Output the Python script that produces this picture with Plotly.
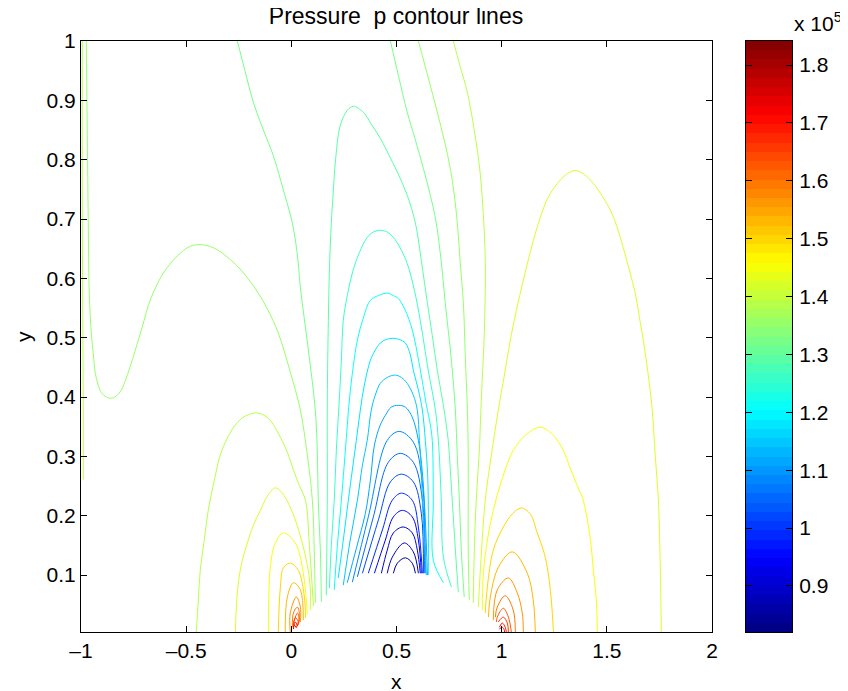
import plotly.graph_objects as go

# Contour levels in units of 1e5
L = {i: 0.811 + 0.034 * i for i in range(1, 28)}

# (level index, x values, y values)
CONTOURS = [
 (1,[.485,.504,.542,.575,.590],[.103,.120,.129,.120,.103]),
 (2,[.456,.480,.537,.580,.604],[.103,.130,.154,.139,.103]),
 (3,[.428,.456,.485,.532,.575,.599,.613],[.103,.142,.171,.181,.171,.142,.103]),
 (4,[.395,.447,.485,.528,.575,.604,.618],[.103,.159,.198,.209,.198,.159,.103]),
 (5,[.366,.433,.480,.523,.575,.604,.623],[.103,.176,.226,.238,.226,.181,.103]),
 (6,[.338,.414,.471,.523,.580,.618,.628],[.103,.193,.257,.270,.257,.204,.103]),
 (7,[.314,.390,.461,.518,.580,.623,.632],[.097,.198,.290,.305,.290,.226,.103]),
 (8,[.290,.366,.456,.513,.580,.623,.637],[.088,.198,.327,.342,.324,.255,.103]),
 (9,[.266,.309,.352,.376,.395,.423,.447,.475,.509,.542,.575,.604,.623,.637,.647],
    [.087,.145,.204,.260,.319,.353,.369,.383,.386,.383,.366,.327,.272,.193,.100]),
 (10,[.247,.280,.314,.338,.361,.380,.399,.423,.456,.494,.523,.551,.580,.599,.609,.618,.623,.632,.642],
     [.083,.159,.226,.285,.327,.378,.403,.423,.433,.437,.433,.423,.403,.378,.327,.277,.226,.159,.100]),
 (11,[.223,.247,.271,.290,.309,.328,.347,.376,.399,.423,.451,.485,.513,.542,.566,.580,.604,.623,.637,.647,.651,.651],
     [.095,.159,.226,.277,.327,.378,.420,.462,.479,.491,.497,.499,.497,.491,.471,.445,.412,.378,.327,.277,.226,.100]),
 (12,[.204,.219,.238,.257,.276,.295,.314,.342,.376,.414,.456,.485,.509,.542,.575,.609,.642,.661,.670,.675,.675,.723],
     [.075,.150,.226,.310,.395,.453,.496,.533,.563,.571,.575,.571,.566,.546,.513,.454,.387,.353,.327,.226,.125,.087]),
 (13,[.181,.190,.204,.214,.228,.238,.247,.266,.290,.323,.361,.390,.423,.456,.485,.518,.551,.585,.613,.651,.685,.699,.713,.723,.761],
     [.078,.150,.226,.310,.395,.462,.529,.571,.609,.643,.669,.678,.681,.678,.669,.651,.625,.580,.529,.445,.378,.327,.226,.130,.080]),
 (14,[.166,.171,.171,.176,.181,.190,.200,.209,.233,.266,.295,.342,.380,.423,.461,.504,.551,.590,.618,.647,.670,.694,.723,.746,.756,.765,.780,.794],
     [.066,.226,.395,.529,.614,.693,.749,.795,.858,.883,.890,.880,.860,.836,.810,.779,.740,.693,.630,.558,.504,.445,.386,.327,.276,.226,.142,.071]),
 (15,[-.257,-.219,-.181,-.133,-.086,-.038,.005,.029,.043,.081,.114,.124,.128,.138,.143],
     [1.0,.948,.897,.850,.807,.749,.693,.639,.585,.479,.378,.302,.226,.142,.055]),
 (15,[.471,.509,.551,.590,.628,.661,.689,.713,.732,.761,.780,.789,.799,.808,.822],
     [1.0,.942,.880,.833,.785,.740,.693,.627,.558,.462,.378,.302,.226,.142,.063]),
 (16,[-.975,-.970,-.965,-.961,-.951,-.941,-.932,-.918,-.903,-.880,-.856,-.832,-.808,-.785,-.761,-.713,-.666,-.599,-.523,-.480,-.433,-.390,-.347,-.252,-.157,-.109,-.062,-.005,.043,.076,.100,.109,.114],
     [1.0,.841,.681,.580,.508,.471,.440,.420,.407,.400,.398,.402,.412,.432,.457,.513,.568,.614,.644,.654,.657,.654,.647,.619,.575,.545,.508,.442,.378,.302,.226,.142,.053]),
 (16,[.604,.651,.694,.727,.756,.775,.789,.803,.818,.827,.837,.841,.841,.841,.846],
     [1.0,.938,.880,.833,.785,.740,.693,.627,.558,.470,.378,.302,.226,.142,.058]),
 (17,[-.994,-.994,-.989,-.989],[1.0,.732,.361,.261]),
 (17,[-.452,-.442,-.433,-.414,-.395,-.366,-.338,-.304,-.266,-.219,-.162,-.109,-.052,-.019,.010,.038,.067,.086,.105],
     [.004,.058,.108,.159,.209,.260,.302,.331,.353,.368,.373,.364,.332,.307,.277,.251,.226,.150,.048]),
 (17,[.770,.803,.837,.870,.899,.913,.922,.918,.903,.894,.879,.870,.865],
     [1.0,.957,.913,.849,.774,.706,.630,.513,.395,.311,.226,.142,.053]),
 (18,[-.266,-.261,-.252,-.233,-.209,-.181,-.147,-.114,-.076,-.043,-.014,.024,.052,.076,.090,.090],
     [.004,.049,.087,.125,.154,.184,.209,.233,.247,.238,.221,.188,.154,.117,.080,.041]),
 (18,[.889,.903,.922,.951,.984,1.013,1.041,1.070,1.103,1.141,1.184,1.222,1.265,1.307,1.350,1.393,1.436,1.479,1.517,1.550,1.578,1.607,1.635,1.654,1.673,1.697,1.716,1.730,1.745,1.754,1.759],
     [.046,.134,.226,.302,.378,.437,.496,.546,.597,.651,.703,.737,.760,.775,.782,.775,.760,.738,.715,.685,.652,.614,.575,.536,.496,.437,.378,.302,.226,.117,.004]),
 (19,[-.109,-.100,-.076,-.038,.019,.057,.076],[.004,.113,.154,.171,.154,.103,.033]),
 (19,[.908,.913,.932,.960,1.003,1.055,1.117,1.184,1.241,1.293,1.326,1.359,1.388,1.422,1.436,1.450,1.455],
     [.041,.103,.159,.209,.263,.310,.337,.349,.337,.310,.280,.251,.226,.159,.108,.058,.004]),
 (20,[-.062,-.052,-.038,-.005,.033,.062,.067],[.004,.080,.112,.120,.108,.063,.028]),
 (20,[.922,.932,.960,1.008,1.051,1.093,1.136,1.169,1.198,1.217,1.236,1.246],
     [.036,.080,.142,.181,.203,.213,.203,.171,.142,.113,.058,.004]),
 (21,[-.029,-.019,.010,.043,.057],[.004,.063,.087,.075,.024]),
 (21,[.937,.946,.984,1.051,1.122,1.150,1.160],[.029,.063,.113,.139,.103,.058,.004]),
 (22,[-.005,-.005,.024,.043,.043],[.004,.036,.063,.046,.021]),
 (22,[.960,.979,1.032,1.074,1.098,1.103],[.024,.075,.095,.070,.036,.004]),
 (23,[.005,.010,.029,.038,.033],[.012,.036,.046,.036,.017]),
 (23,[.970,.979,1.017,1.055,1.065],[.029,.046,.065,.041,.004]),
 (24,[.010,.029,.038,.029],[.019,.036,.024,.014]),
 (24,[.975,.979,1.008,1.032,1.046],[.021,.029,.044,.029,.004]),
 (25,[.010,.019,.033,.024],[.016,.028,.021,.012]),
 (25,[.984,1.008,1.027,1.032],[.021,.029,.019,.004]),
 (26,[.010,.019,.029],[.012,.021,.014]),
 (26,[.989,1.003,1.017,1.022],[.012,.019,.012,.004]),
 (27,[.010,.014,.024],[.009,.016,.011]),
 (27,[.989,1.003,1.013,1.013],[.009,.012,.007,.004]),
]

CB_MIN, CB_MAX = 0.8205, 1.8415
X_TICKS = [-1, -0.5, 0, 0.5, 1, 1.5, 2]
X_LABELS = ["\u20131", "\u20130.5", "0", "0.5", "1", "1.5", "2"]
Y_TICKS = [0.1, 0.2, 0.3, 0.4, 0.5, 0.6, 0.7, 0.8, 0.9, 1]
Y_LABELS = ["0.1", "0.2", "0.3", "0.4", "0.5", "0.6", "0.7", "0.8", "0.9", "1"]
CB_TICKS = [0.9, 1.0, 1.1, 1.2, 1.3, 1.4, 1.5, 1.6, 1.7, 1.8]
CB_LABELS = ["0.9", "1", "1.1", "1.2", "1.3", "1.4", "1.5", "1.6", "1.7", "1.8"]


def jet(i, n=64):
    t = (i + 0.5) / n
    f = lambda a: max(0.0, min(1.0, 1.5 - abs(4 * t - a)))
    return f"rgb({round(255*f(3)):d},{round(255*f(2)):d},{round(255*f(1)):d})"


def level_color(v):
    i = int((v - CB_MIN) / (CB_MAX - CB_MIN) * 64)
    return jet(max(0, min(63, i)))


W, H = 848, 691
PAGE = 8  # page margin around the figure


def fx(px):
    return (px - PAGE) / W


def fy(py):
    return 1 - (py - PAGE) / H


fig = go.Figure()
for idx, xs, ys in CONTOURS:
    fig.add_trace(go.Scatter(
        x=xs, y=ys, mode="lines", showlegend=False, hoverinfo="skip",
        line=dict(color=level_color(L[idx]), width=1, shape="spline", smoothing=1.0),
    ))

cb_y = [CB_MIN + (i + 0.5) * (CB_MAX - CB_MIN) / 64 for i in range(64)]
fig.add_trace(go.Heatmap(
    x=[0], y=cb_y, z=[[v] for v in cb_y], zmin=cb_y[0], zmax=cb_y[-1],
    colorscale=[[i / 63, jet(i)] for i in range(64)], showscale=False,
    xaxis="x2", yaxis="y2", hoverinfo="skip",
))

FONT = dict(family="Liberation Sans, Arial, sans-serif", size=21, color="black")
common = dict(showgrid=False, zeroline=False, showline=True, linecolor="black", linewidth=1,
              mirror="ticks", ticks="inside", ticklen=6, tickcolor="black", tickwidth=1,
              tickfont=FONT, automargin=False)
fig.update_layout(
    width=W, height=H, margin=dict(l=0, r=0, t=0, b=0), paper_bgcolor="white", plot_bgcolor="white",
    font=FONT, showlegend=False,
    title=dict(text="Pressure  p contour lines", x=fx(396), xanchor="center", y=fy(16), yanchor="middle",
               automargin=False, font=dict(size=23, family=FONT["family"], color="black")),
    xaxis=dict(domain=[fx(81), fx(712)], range=[-1, 2], tickvals=X_TICKS, ticktext=X_LABELS, **common),
    yaxis=dict(domain=[fy(632), fy(41)], range=[0.004, 1], tickvals=Y_TICKS, ticktext=Y_LABELS, **common),
    xaxis2=dict(domain=[fx(746), fx(792)], range=[-0.5, 0.5], anchor="y2", showticklabels=False,
                showgrid=False, zeroline=False, showline=True, linecolor="black", linewidth=1,
                mirror=True, ticks="", automargin=False),
    yaxis2=dict(domain=[fy(632), fy(41)], range=[CB_MIN, CB_MAX], anchor="x2", side="right",
                tickvals=CB_TICKS, ticktext=CB_LABELS, ticklabelstandoff=2, **common),
    annotations=[
        dict(text="x 10<sup>5</sup>", x=fx(792), y=fy(22), xref="paper", yref="paper",
             xanchor="left", yanchor="middle", showarrow=False, font=FONT),
        dict(text="x", x=fx(396), y=fy(681), xref="paper", yref="paper",
             xanchor="center", yanchor="middle", showarrow=False, font=FONT),
        dict(text="y", x=fx(24), y=fy(337), xref="paper", yref="paper", textangle=-90,
             xanchor="center", yanchor="middle", showarrow=False, font=FONT),
    ],
)
fig.write_html("out.html")
